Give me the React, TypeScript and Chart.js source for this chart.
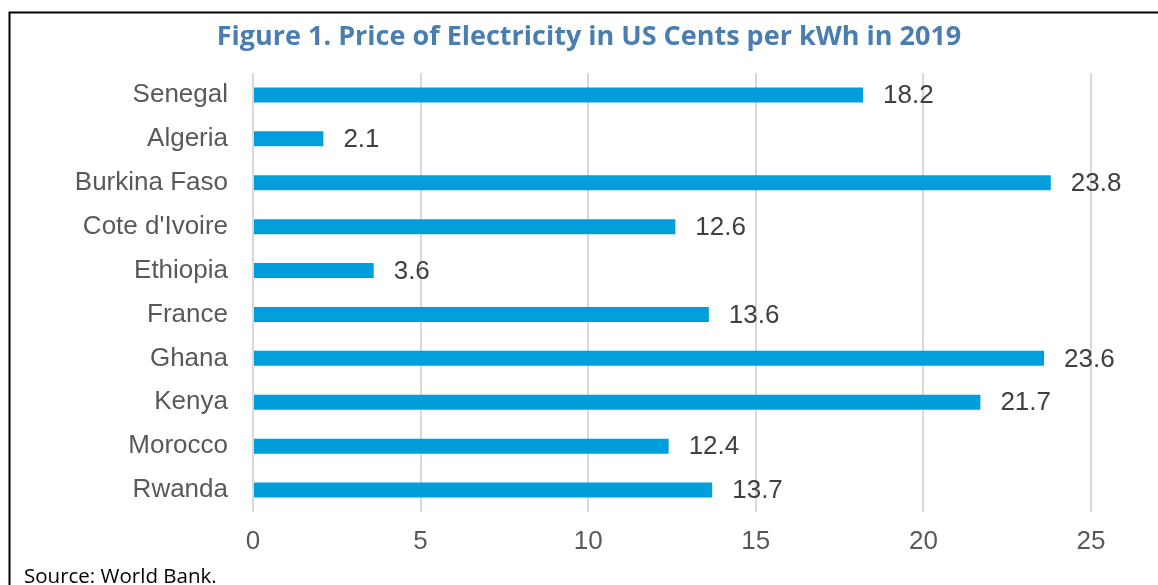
import React, { useEffect, useRef } from 'react';
import { Chart, registerables } from 'chart.js';

Chart.register(...registerables);

const categories = ['Senegal', 'Algeria', 'Burkina Faso', "Cote d'Ivoire", 'Ethiopia', 'France', 'Ghana', 'Kenya', 'Morocco', 'Rwanda'];
const prices = [18.2, 2.1, 23.8, 12.6, 3.6, 13.6, 23.6, 21.7, 12.4, 13.7];
const xMin = 0;
const xMax = 25;
const xStep = 5;
const titleText = 'Figure 1. Price of Electricity in US Cents per kWh in 2019';
const sourceText = 'Source: World Bank.';

const AXIS_FONT = '"Liberation Sans", Arial, sans-serif';
const TITLE_FONT = '"Open Sans", "Noto Sans", sans-serif';

const decorPlugin = {
  id: 'decor',
  afterDatasetsDraw(chart: any) {
    const ctx = chart.ctx;
    ctx.save();
    const meta = chart.getDatasetMeta(0);
    ctx.font = `26px ${AXIS_FONT}`;
    ctx.fillStyle = '#404040';
    ctx.textAlign = 'left';
    ctx.textBaseline = 'middle';
    meta.data.forEach((bar: any, i: number) => {
      const v = chart.data.datasets[0].data[i];
      ctx.fillText(Number(v).toFixed(1), bar.x + 20, bar.y + 1);
    });
    ctx.restore();
  },
  afterDraw(chart: any) {
    const ctx = chart.ctx;
    ctx.save();
    ctx.strokeStyle = '#000000';
    ctx.lineWidth = 2;
    ctx.beginPath();
    ctx.moveTo(9.5, 585);
    ctx.lineTo(9.5, 12.5);
    ctx.lineTo(1158, 12.5);
    ctx.stroke();
    ctx.font = `bold 27px ${TITLE_FONT}`;
    ctx.fillStyle = '#4a7eb0';
    ctx.textAlign = 'center';
    ctx.textBaseline = 'alphabetic';
    ctx.fillText(titleText, 589, 45);
    ctx.font = `20.5px ${TITLE_FONT}`;
    ctx.fillStyle = '#000000';
    ctx.textAlign = 'left';
    ctx.fillText(sourceText, 24, 583);
    ctx.restore();
  },
};

export default function App() {
  const canvasRef = useRef<HTMLCanvasElement | null>(null);

  useEffect(() => {
    document.body.style.margin = '0';
    const canvas = canvasRef.current;
    if (!canvas) return;
    const chart = new Chart(canvas, {
      type: 'bar',
      data: {
        labels: categories,
        datasets: [
          {
            data: prices,
            backgroundColor: '#009fdc',
            borderWidth: 0,
            barPercentage: 0.342,
            categoryPercentage: 1,
          },
        ],
      },
      options: {
        indexAxis: 'y',
        responsive: false,
        animation: false,
        devicePixelRatio: 1,
        layout: { padding: { top: 73, right: 67, bottom: 0, left: 0 } },
        plugins: {
          legend: { display: false },
          title: { display: false },
          tooltip: { enabled: false },
        },
        scales: {
          x: {
            min: xMin,
            max: xMax,
            ticks: {
              stepSize: xStep,
              color: '#595959',
              font: { family: AXIS_FONT, size: 26 },
              padding: 14,
            },
            grid: { color: '#d9d9d9', lineWidth: 2, drawTicks: false },
            border: { display: false },
            afterFit: (scale: any) => {
              scale.height = 73;
            },
          },
          y: {
            ticks: {
              color: '#595959',
              font: { family: AXIS_FONT, size: 26 },
              padding: 25,
            },
            grid: { display: false, drawTicks: false },
            border: { display: false },
            afterFit: (scale: any) => {
              scale.width = 253;
            },
          },
        },
      },
      plugins: [decorPlugin],
    });
    return () => chart.destroy();
  }, []);

  return <canvas ref={canvasRef} width={1158} height={585} style={{ display: 'block' }} />;
}
